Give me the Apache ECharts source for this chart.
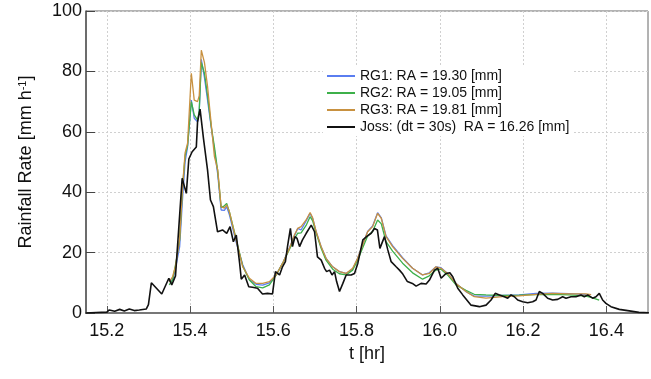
<!DOCTYPE html>
<html><head><meta charset="utf-8">
<script src="https://cdn.jsdelivr.net/npm/echarts@6/dist/echarts.min.js"></script>
<style>html,body{margin:0;padding:0;background:#fff}#c{width:651px;height:379px}</style>
</head><body><div id="c"></div>
<script>
const xTicks = [15.2, 15.4, 15.6, 15.8, 16.0, 16.2, 16.4];
const legendNames = ['RG1: RA = 19.30 [mm]', 'RG2: RA = 19.05 [mm]', 'RG3: RA = 19.81 [mm]', 'Joss: (dt = 30s)  RA = 16.26 [mm]'];

const rgTime = [15.350,15.358,15.365,15.375,15.382,15.388,15.394,15.403,15.410,15.418,15.422,15.427,15.4345,15.442,15.4506,15.4585,15.4664,15.4746,15.4825,15.488,15.4945,15.5106,15.5265,15.5425,15.5586,15.5745,15.5905,15.6066,15.6225,15.6386,15.6506,15.6585,15.6667,15.6787,15.6883,15.6945,15.7027,15.7146,15.7266,15.7425,15.7586,15.7746,15.7905,15.8025,15.8145,15.8265,15.8385,15.8505,15.8594,15.8707,15.8865,15.9105,15.9345,15.9585,15.9746,15.9907,16.0027,16.0185,16.0387,16.0627,16.0826,16.1107,16.1506,16.1906,16.2307,16.2706,16.3107,16.3507,16.3635,16.3827];
const rg1 = [11,10.9,14.8,22,38,50,55,70.5,64.5,63.3,66.7,84,78,70.5,61.7,54,46,34.1,34,35.2,32.5,23.5,16,11,9.5,9.2,10,12.6,16.5,21.6,25.5,28,27.5,30.5,33,31.3,27,22,18.1,15.3,13.7,13.1,14.5,18.1,22.5,27,28.8,33.2,31.5,25.5,22.3,18.3,14.8,12.6,13.3,15.3,15,13.1,9.8,7.1,5.6,5.6,5.8,6,6.5,6.6,6.4,6.2,null,null];
const rg2 = [9.3,11,15.9,24.2,41.8,52,55.5,70,65.6,63.9,67,83,79.4,72,62,55,47,35,35.5,36.3,33.5,24.5,15.5,10.9,8.7,8.3,9.3,12.5,16.5,21,24.5,26.4,26.5,29,31.9,30.5,26.5,21.5,17.5,14.5,13,12.6,14.2,17.5,21.5,25.5,27,30.8,29.5,23.6,20.5,16.5,13.3,11.2,12.3,14.2,14.5,12.6,9.3,7.5,6.2,6,5.8,5.9,6.1,6.2,6,5.6,5.2,4.3];
const rg3 = [10.3,12,15.5,24.5,42,53,56.2,79.4,70.5,70,72,87,83,75,62.8,51.8,47.4,35.2,34.7,35.8,33.5,24.2,15.3,11.5,9.8,9.8,10.4,12.6,16.5,21.4,25.8,28,28.6,30.8,33.3,31.5,27,22,18.1,15.3,13.7,13.1,14.8,18.1,22.5,26.9,28.6,33,31.3,25.3,22,18.1,14.8,12.6,13.1,15.3,14.8,13.1,9.8,7.1,5.4,4.9,5.4,5.7,6.2,6.5,6.3,6.3,6.1,null];

const jossTime = [15.149,15.2,15.206,15.219,15.231,15.242,15.254,15.266,15.278,15.2946,15.300,15.307,15.332,15.349,15.356,15.365,15.381,15.391,15.397,15.405,15.415,15.418,15.424,15.432,15.442,15.449,15.456,15.466,15.478,15.488,15.496,15.504,15.511,15.519,15.523,15.531,15.541,15.550,15.562,15.574,15.586,15.598,15.605,15.615,15.622,15.629,15.634,15.641,15.646,15.652,15.657,15.663,15.670,15.679,15.691,15.699,15.706,15.715,15.723,15.728,15.735,15.741,15.747,15.752,15.759,15.767,15.775,15.787,15.795,15.803,15.815,15.824,15.835,15.843,15.850,15.856,15.867,15.875,15.883,15.895,15.903,15.911,15.922,15.934,15.943,15.955,15.967,15.975,15.987,15.995,16.003,16.015,16.024,16.031,16.043,16.055,16.075,16.095,16.111,16.123,16.133,16.143,16.155,16.163,16.171,16.179,16.187,16.199,16.211,16.223,16.231,16.239,16.247,16.259,16.271,16.283,16.295,16.303,16.315,16.327,16.339,16.347,16.355,16.367,16.375,16.383,16.391,16.399,16.411,16.431,16.455,16.478,16.502];
const joss = [0,0.3,1,0.6,1.2,0.7,1.3,0.8,1,1.3,2.8,10,6.3,11.5,9.3,12.3,44.6,39.6,51,53.4,55,63.3,67.5,58,47.3,37.4,35.2,26.9,27.5,26.4,28.6,23.6,25.8,16.5,11.2,12.6,8.7,8.5,8.2,6.3,6.5,6.3,13.7,12.6,15.3,17,22,28,22,25.3,24.7,22,24.2,26.4,29.1,26.9,18.6,17.5,14.8,13.7,14.2,12.6,13.7,10.4,7.1,9.8,12.6,12.6,13.1,16.5,24.2,25.3,26.4,28,27.5,21.4,25.3,20.9,17,15.3,14.2,12.9,10.4,9.8,8.9,9.8,9.6,10.9,14.2,14.8,11.5,13.1,13.3,12,8.2,6,2.6,2.1,2.6,4.3,6.5,6,5.4,4.9,6,5.4,4.3,3.7,3.4,3.7,4.3,7.1,6.5,4.9,4.3,4.5,5.4,4.9,5.4,5.4,6,5.4,6,4.9,5.4,6.5,4.3,3.2,2.1,1.2,0.7,0.2,0.1];

const zip = (t, v) => t.map((x, i) => [x, v[i]]);
const colors = ['#5a7df0', '#3db04a', '#c89140', '#111111'];
const font = '"Liberation Sans", Arial, sans-serif';

const chart = echarts.init(document.getElementById('c'), null, {renderer: 'canvas'});
chart.setOption({
  animation: false,
  backgroundColor: '#fff',
  color: colors,
  grid: {left: 86, right: 3, top: 11, bottom: 66, show: true, borderColor: '#666', borderWidth: 1, backgroundColor: 'transparent'},
  legend: {
    orient: 'vertical', left: 323, top: 67, itemWidth: 28, itemHeight: 2, itemGap: 3, icon: 'rect',
    backgroundColor: '#fff', padding: [2, 4, 2, 4],
    textStyle: {fontFamily: font, fontSize: 14, color: '#111', lineHeight: 14},
    data: legendNames
  },
  xAxis: {
    type: 'value', min: 15.15, max: 16.5,
    name: 't [hr]', nameLocation: 'middle', nameGap: 26,
    nameTextStyle: {fontFamily: font, fontSize: 18, color: '#111'},
    axisLine: {show: true, onZero: false, lineStyle: {color: '#777', width: 2}},
    axisTick: {show: true, inside: true, length: 7, customValues: xTicks, lineStyle: {color: '#555'}},
    axisLabel: {customValues: xTicks, fontFamily: font, fontSize: 18, color: '#111', margin: 9, formatter: v => v.toFixed(1)},
    splitLine: {show: true, lineStyle: {color: '#d0d0d0', type: [2, 2], width: 1}}
  },
  yAxis: {
    type: 'value', min: 0, max: 100, interval: 20,
    name: 'Rainfall Rate [mm h{sup|-1}]', nameLocation: 'middle', nameGap: 50,
    nameTextStyle: {fontFamily: font, fontSize: 18, color: '#111', rich: {sup: {fontFamily: font, fontSize: 11, color: '#111', verticalAlign: 'top', padding: [0, 0, 8, 0]}}},
    axisLine: {show: true, lineStyle: {color: '#555', width: 1.5}},
    axisTick: {show: true, inside: true, length: 9, lineStyle: {color: '#444'}},
    axisLabel: {fontFamily: font, fontSize: 18, color: '#111', margin: 4},
    splitLine: {show: true, lineStyle: {color: '#d0d0d0', type: [2, 2], width: 1}}
  },
  series: [
    {name: legendNames[0], type: 'line', symbol: 'none', data: zip(rgTime, rg1), lineStyle: {width: 1.3}},
    {name: legendNames[1], type: 'line', symbol: 'none', data: zip(rgTime, rg2), lineStyle: {width: 1.3}},
    {name: legendNames[2], type: 'line', symbol: 'none', data: zip(rgTime, rg3), lineStyle: {width: 1.3}},
    {name: legendNames[3], type: 'line', symbol: 'none', data: zip(jossTime, joss), lineStyle: {width: 1.6}}
  ]
});
</script></body></html>
